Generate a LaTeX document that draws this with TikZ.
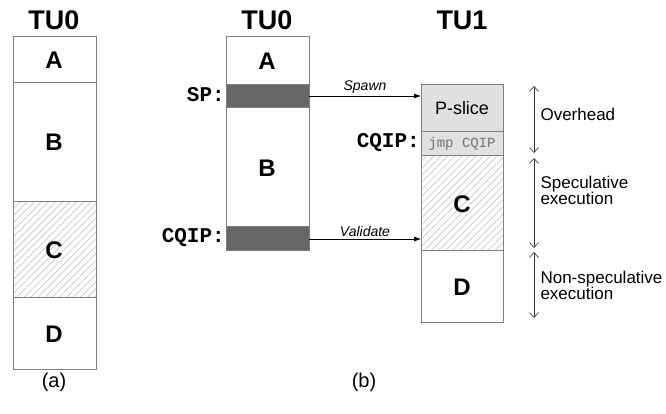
\documentclass[tikz,border=0pt]{standalone}
\usepackage{fontspec}
\setmainfont{Liberation Sans}
\newfontfamily\monof{Liberation Mono}
\usetikzlibrary{patterns.meta,arrows.meta}
\begin{document}
\begin{tikzpicture}[x=1pt,y=-1pt,
  blk/.style={draw=black!50,line width=0.8pt},
  dark/.style={blk,fill=black!60},
  light/.style={blk,fill=black!12},
  hatch/.style={blk,pattern={Lines[angle=45,distance=5pt,line width=0.7pt]},pattern color=black!22},
  big/.style={font=\fontsize{24}{24}\selectfont\bfseries},
  head/.style={font=\fontsize{27}{27}\selectfont\bfseries},
  lab/.style={font=\fontsize{17}{16}\selectfont,align=left,anchor=west},
  mlab/.style={font=\monof\fontsize{21}{21}\selectfont\bfseries,anchor=east,inner xsep=1pt},
  arr/.style={-{Latex[length=7pt,width=5pt]},line width=0.6pt},
  dim/.style={{Straight Barb[length=5pt,width=9pt]}-{Straight Barb[length=5pt,width=9pt]},line width=0.6pt,black!80},
  arrlab/.style={font=\fontsize{14}{14}\selectfont\itshape},
  sub/.style={font=\fontsize{20}{20}\selectfont}]
\useasboundingbox (0,0) rectangle (666,413);
% column (a)
\node[head] (ta) at (54,20) {TU0};
\draw[blk] (13,36) rectangle (96,82);
\node[big] (aA) at (54,60) {A};
\draw[blk] (13,82) rectangle (96,201);
\node[big] (aB) at (54,142) {B};
\draw[hatch] (13,201) rectangle (96,297);
\node[big] (aC) at (54,250) {C};
\draw[blk] (13,297) rectangle (96,369);
\node[big] (aD) at (54,334) {D};
\node[sub] (la) at (54,382) {(a)};
% column (b) TU0
\node[head] (tb) at (267,20) {TU0};
\draw[blk] (226,36) rectangle (309,84);
\node[big] (bA) at (267,61) {A};
\draw[dark] (226,84) rectangle (309,107);
\coordinate (sp) at (309,96);
\draw[blk] (226,107) rectangle (309,226);
\node[big] (bB) at (267,168) {B};
\draw[dark] (226,226) rectangle (309,250);
\coordinate (cq) at (309,239);
\node[mlab] (spl) at (226,95) {SP:};
\node[mlab] (cql) at (226,238) {CQIP:};
% TU1
\node[head] (tc) at (462,20) {TU1};
\draw[light] (421,84) rectangle (503,131);
\node[font=\fontsize{18}{18}\selectfont] (ps) at (462,108) {P-slice};
\draw[light] (421,131) rectangle (503,155);
\node[font=\monof\fontsize{14}{14}\selectfont,text=black!55] (jmp) at (462,143.5) {jmp CQIP};
\draw[hatch] (421,155) rectangle (503,250);
\node[big] (cC) at (462,204) {C};
\draw[blk] (421,250) rectangle (503,322);
\node[big] (cD) at (462,287) {D};
\node[mlab] (cql2) at (421,143) {CQIP:};
\coordinate (spawnend) at (421,96);
\coordinate (valend) at (421,239);
\draw[arr] (sp) -- node[arrlab,above=-1.5pt] (sw) {Spawn} (spawnend);
\draw[arr] (cq) -- node[arrlab,above=-1.5pt] (vl) {Validate} (valend);
\node[sub] (lb) at (364,382) {(b)};
% dimension arrows
\coordinate (o1) at (534,86); \coordinate (o2) at (534,153);
\coordinate (s1) at (534,158); \coordinate (s2) at (534,248);
\coordinate (n1) at (534,252); \coordinate (n2) at (534,318);
\draw[dim] (o1) -- (o2);
\draw[dim] (s1) -- (s2);
\draw[dim] (n1) -- (n2);
\node[lab] (ov) at (537,114) {Overhead};
\node[lab] (se) at (537,190) {Speculative\\execution};
\node[lab] (ne) at (537,285) {Non-speculative\\execution};
\end{tikzpicture}
\end{document}
